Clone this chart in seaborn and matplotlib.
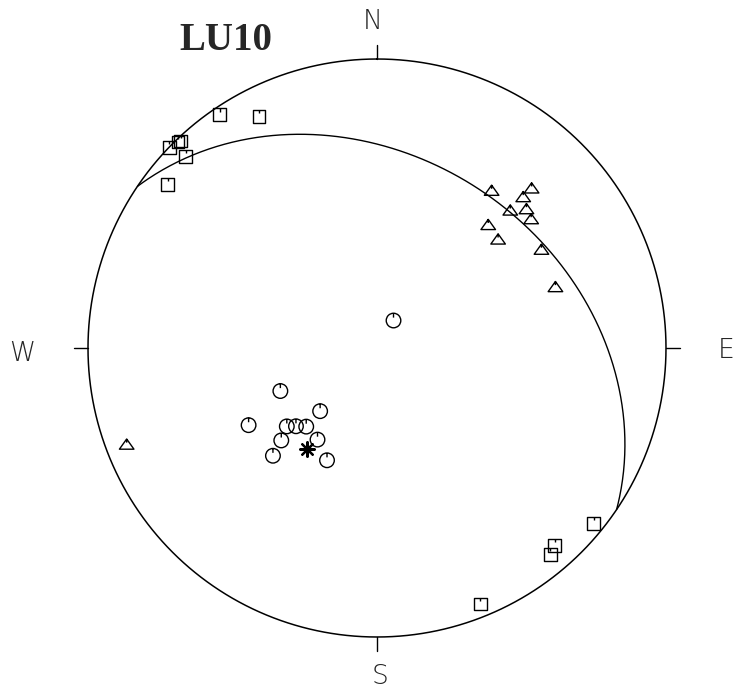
import numpy as np
import pandas as pd
import matplotlib
matplotlib.use("Agg")
import matplotlib.pyplot as plt
from matplotlib.path import Path
import seaborn as sns

# Site LU10 - directions (degrees)
square_dec = [326, 333, 316, 316.5, 314, 315, 308, 129, 138, 140, 158]
square_inc = [3, 11, 1, 1.4, 0, 7, 9, 4, 9, 7.5, 5]
triangle_dec = [36, 44, 44, 44, 47, 50, 42, 48, 59, 71, 249]
triangle_inc = [33, 24, 28, 34, 30, 31, 42, 43, 34, 35, 8]
circle_dec = [31, 246, 222, 239, 229, 226, 222, 226, 213, 224, 204]
circle_inc = [81, 60, 66, 47, 56, 58, 60, 52, 59, 47, 55]
mean_dec = [215]
mean_inc = [55]
plane_dipdir, plane_dip = 34, 35
site_name = "LU10"
compass = ["N", "E", "S", "W"]


def project(dec, inc):
    # lambert equal-area, radius 1 at the primitive
    dec = np.radians(np.asarray(dec, float))
    r = np.sqrt(2) * np.sin(np.radians(90 - np.abs(np.asarray(inc, float))) / 2)
    return r * np.sin(dec), r * np.cos(dec)


def to_frame(dec, inc):
    x, y = project(dec, inc)
    return pd.DataFrame({"x": x, "y": y})


def tick_marker(verts, top):
    codes = [Path.MOVETO] + [Path.LINETO] * (len(verts) - 2) + [Path.CLOSEPOLY]
    outline = Path(verts, codes)
    tick = Path([(0, top), (0, top - 0.5)], [Path.MOVETO, Path.LINETO])
    return Path.make_compound_path(outline, tick)


square_marker = tick_marker([(-1, -1), (1, -1), (1, 1), (-1, 1), (-1, -1)], 1)
triangle_marker = tick_marker([(-1, -0.7), (1, -0.7), (0, 0.7), (-1, -0.7)], 0.7)
circle_marker = Path.make_compound_path(
    Path.unit_circle(), Path([(0, 1), (0, 0.4)], [Path.MOVETO, Path.LINETO]))

# great circle of the plane
t = np.radians(np.linspace(0, 180, 361))
s, dd, d = np.radians([plane_dipdir - 90, plane_dipdir, plane_dip])
east = np.cos(t) * np.sin(s) + np.sin(t) * np.sin(dd) * np.cos(d)
north = np.cos(t) * np.cos(s) + np.sin(t) * np.cos(dd) * np.cos(d)
down = np.sin(t) * np.sin(d)
gc = to_frame(np.degrees(np.arctan2(east, north)),
              np.degrees(np.arcsin(np.clip(down, -1, 1))))
prim = to_frame(np.linspace(0, 360, 721), np.zeros(721))

sns.set_style("white")
fig = plt.figure(figsize=(7.37, 6.9), dpi=100)
ax = fig.add_axes([0, 0, 1, 1])

sns.lineplot(data=prim, x="x", y="y", sort=False, color="black", lw=1.1,
             estimator=None, ax=ax)
sns.lineplot(data=gc, x="x", y="y", sort=False, color="black", lw=1.0,
             estimator=None, ax=ax)

style = dict(facecolor="none", edgecolor="black", linewidth=1.0, legend=False, ax=ax)
sns.scatterplot(data=to_frame(square_dec, square_inc), x="x", y="y",
                marker=square_marker, s=85, **style)
sns.scatterplot(data=to_frame(triangle_dec, triangle_inc), x="x", y="y",
                marker=triangle_marker, s=110, **style)
sns.scatterplot(data=to_frame(circle_dec, circle_inc), x="x", y="y",
                marker=circle_marker, s=110, **style)
sns.scatterplot(data=to_frame(mean_dec, mean_inc), x="x", y="y",
                marker=(8, 2, 0), s=110, color="black", linewidth=1.6,
                legend=False, ax=ax)

# compass ticks and labels
for k, lab in enumerate(compass):
    a = np.radians(90 * k)
    ax.plot([np.sin(a), 1.05 * np.sin(a)], [np.cos(a), 1.05 * np.cos(a)],
            color="black", lw=1.0)
ax.text(-0.014, 1.131, "N", ha="center", va="center", fontsize=19,
        fontweight="light")
ax.text(0.012, -1.138, "S", ha="center", va="center", fontsize=19,
        fontweight="light")
ax.text(-1.228, -0.02, "W", ha="center", va="center", fontsize=19,
        fontweight="light")
ax.text(1.238, -0.01, "E", ha="right", va="center", fontsize=19,
        fontweight="light")
ax.text(-0.522, 1.065, site_name, ha="center", va="center", fontsize=28,
        fontweight="bold", family="Liberation Serif")

ax.set_xlim(-1.3045, 1.2457)
ax.set_ylim(-1.1834, 1.2042)
ax.axis("off")
fig.savefig("out.png", dpi=100)
